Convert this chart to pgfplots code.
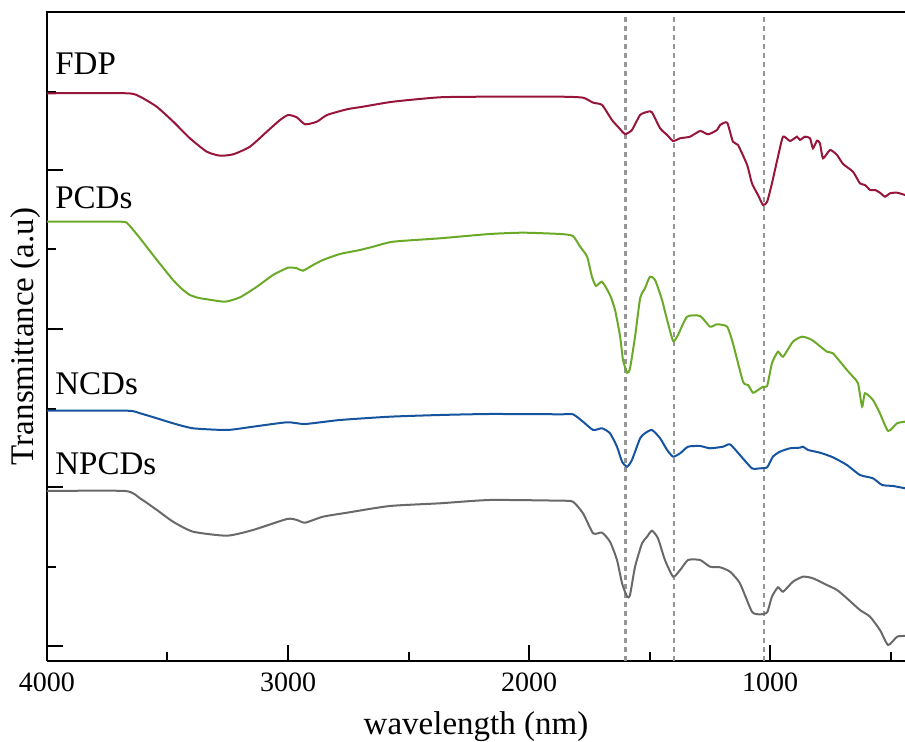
\documentclass[border=0pt]{standalone}
\usepackage{fontspec}
\setmainfont{Liberation Serif}
\usepackage{pgfplots}
\pgfplotsset{compat=1.18}
\definecolor{cFDP}{RGB}{152,21,58}
\definecolor{cPCD}{RGB}{107,170,40}
\definecolor{cNCD}{RGB}{22,84,160}
\definecolor{cNPC}{RGB}{105,105,105}
\definecolor{cDash}{RGB}{150,150,150}
\begin{document}
\begin{tikzpicture}
\begin{axis}[
  name=ax,
  scale only axis,
  width=429pt, height=324.5pt,
  xmin=440, xmax=4000, ymin=0, ymax=649,
  x dir=reverse,
  axis x line*=bottom, axis y line*=left,
  x axis line style={-}, y axis line style={-},
  axis line style={line width=1pt},
  every tick/.style={line width=1pt, black},
  tick align=inside,
  major tick length=8pt, minor tick length=4.5pt,
  xtick={4000,3000,2000,1000},
  xticklabels={4000,3000,2000,1000},
  minor xtick={3500,2500,1500,500},
  ytick={15,174,332,491},
  minor ytick={94,252,412,569},
  yticklabels={},
  xticklabel style={font=\fontsize{14}{16}\selectfont, yshift=-2.5pt},
  xlabel={wavelength (nm)},
  ylabel={Transmittance (a.u)},
  xlabel style={font=\fontsize{16.5}{19}\selectfont, at={(axis description cs:0.5,-0.114)}, anchor=base},
  ylabel style={font=\fontsize{16.5}{19}\selectfont, at={(axis description cs:-0.0163,0.5)}, anchor=base, rotate=0},
  clip=false,
  every axis plot/.append style={line width=1pt, smooth, tension=0.35},
]
% dashed reference lines
\addplot[cDash, line width=1.1pt, dash pattern=on 2.5pt off 2pt, sharp plot] coordinates {(1600,0) (1600,649)};
\addplot[cDash, line width=1.1pt, dash pattern=on 2.5pt off 2pt, sharp plot] coordinates {(1400,0) (1400,649)};
\addplot[cDash, line width=1.1pt, dash pattern=on 2.5pt off 2pt, sharp plot] coordinates {(1025,0) (1025,649)};
% FDP
\addplot[cFDP] coordinates {
(4000,567.7) (3668,567.7) (3614,564.3) (3545,554.3) (3476,539.3) (3407,522.7) (3337,509.3)
(3282,505.3) (3227,506.7) (3158,514.3) (3088,529.3) (3033,541) (2999,546) (2964,543.7)
(2929,536.7) (2880,539.3) (2838,546) (2755,551.7) (2689,554.3) (2564,559.3) (2369,563.7)
(2162,564.3) (1871,564.3) (1776,563.3) (1734,558.3) (1697,556) (1656,541) (1631,534.3)
(1602,527) (1573,531) (1539,546) (1506,549.3) (1490,548.7) (1456,532.7) (1427,526)
(1402,520) (1373,522.7) (1332,524.3) (1290,530) (1257,526.7) (1220,531) (1207,536)
(1178,538.3) (1154,519.3) (1133,516) (1095,496) (1075,477.7) (1050,466) (1029,456)
(1012,459.3) (992,477.7) (967,504.3) (946,524.3) (917,520) (888,524.3) (876,521)
(855,524.3) (834,522.7) (822,512.7) (805,520.3) (793,517.7) (780,502.7) (751,511)
(722,506) (697,497) (656,489.3) (627,477.7) (606,476) (585,471) (564,471) (544,468.3)
(523,464.3) (502,467.7) (473,468.3) (440,466)
};
% PCDs
\addplot[cPCD] coordinates {
(4000,439.3) (3697,439.3) (3664,437) (3614,422.7) (3544,401) (3477,381) (3440,372) (3407,366)
(3370,363) (3336,361.7) (3261,359.3) (3199,363.7) (3129,374.3) (3062,386) (3000,393.3) (2963,392.7)
(2938,390.3) (2896,396) (2855,401) (2784,407) (2701,411) (2647,414.3) (2564,419.3)
(2369,422.7) (2162,427) (2025,428.3) (1871,427) (1818,425) (1788,414.3) (1759,404.3)
(1739,384.3) (1722,375) (1697,379.3) (1664,366) (1643,351) (1622,324.3) (1610,301)
(1593,288.3) (1581,292.7) (1560,324.3) (1539,362.7) (1519,372.7) (1498,384.3) (1477,381)
(1448,361) (1427,341) (1402,320) (1382,326) (1344,344.3) (1290,345) (1249,334.3)
(1220,336.7) (1178,334.3) (1154,317.7) (1112,279.3) (1091,276) (1071,268.3) (1050,271)
(1029,274.3) (1012,275) (992,297.7) (967,309.3) (946,304.3) (905,319.3) (867,324.3)
(826,321) (764,309.3) (739,307.7) (681,291) (656,284.3) (635,277.7) (618,254.3)
(606,267.7) (573,261) (544,247.7) (510,230) (473,237.7) (440,239.3)
};
% NCDs
\addplot[cNCD] coordinates {
(4000,250.3) (3668,250.3) (3614,247.7) (3544,242.7) (3477,237.7) (3394,232.7) (3253,231)
(3145,234.3) (3004,238.7) (2929,237) (2784,241) (2577,244.3) (2369,246) (2162,247)
(1871,246.7) (1818,246.7) (1776,239.3) (1734,231) (1697,232.7) (1664,227.7) (1635,214.3)
(1614,199.3) (1593,194.3) (1573,201) (1539,222.7) (1519,227.7) (1490,231) (1456,222.7)
(1427,211) (1402,204.3) (1373,207.7) (1340,214.3) (1290,215) (1249,212.7) (1195,214.3)
(1166,216.7) (1125,206) (1075,192.7) (1042,192.7) (1012,193.7) (988,204.3) (959,209.3)
(917,212.7) (876,213.3) (863,214.3) (842,211) (793,208.3) (739,203.7) (681,196)
(627,186) (573,182.7) (535,176) (490,175) (440,172.7)
};
% NPCDs
\addplot[cNPC] coordinates {
(4000,170) (3676,170) (3614,162.7) (3544,151) (3477,139.3) (3394,129.3) (3253,125.3)
(3145,131) (3004,142) (2963,141) (2929,138.3) (2855,144.3) (2755,148.3) (2577,155)
(2369,157.7) (2162,161) (1871,160.3) (1818,159.3) (1776,147.7) (1734,127.7) (1697,128.3)
(1664,119.3) (1635,101) (1614,77.7) (1593,64.3) (1581,66) (1560,94.3) (1531,117.7)
(1510,124.3) (1490,130.3) (1465,122.7) (1436,101) (1402,84.3) (1373,91) (1340,101)
(1290,101) (1249,94.3) (1207,93.7) (1166,89.3) (1125,77.7) (1075,49.3) (1042,46.7)
(1012,48.7) (992,64.3) (967,73.7) (946,69.3) (905,79.3) (863,84.3) (822,82.7) (764,76)
(722,71) (681,62.7) (627,51) (585,44.3) (544,31) (510,16) (473,24.3) (440,25)
};
\node[anchor=base west, inner sep=0pt, font=\fontsize{16.5}{19}\selectfont] at (axis cs:3967,586) {FDP};
\node[anchor=base west, inner sep=0pt, font=\fontsize{16.5}{19}\selectfont] at (axis cs:3967,452.7) {PCDs};
\node[anchor=base west, inner sep=0pt, font=\fontsize{16.5}{19}\selectfont] at (axis cs:3967,266) {NCDs};
\node[anchor=base west, inner sep=0pt, font=\fontsize{16.5}{19}\selectfont] at (axis cs:3967,186) {NPCDs};
\end{axis}
\draw[line width=1pt] ([xshift=-0.5pt]ax.north west) -- (ax.north east);
\pgfresetboundingbox
\useasboundingbox ([xshift=-23.5pt,yshift=-40.5pt]ax.south west) rectangle ([yshift=6pt]ax.north east);
\end{tikzpicture}
\end{document}
